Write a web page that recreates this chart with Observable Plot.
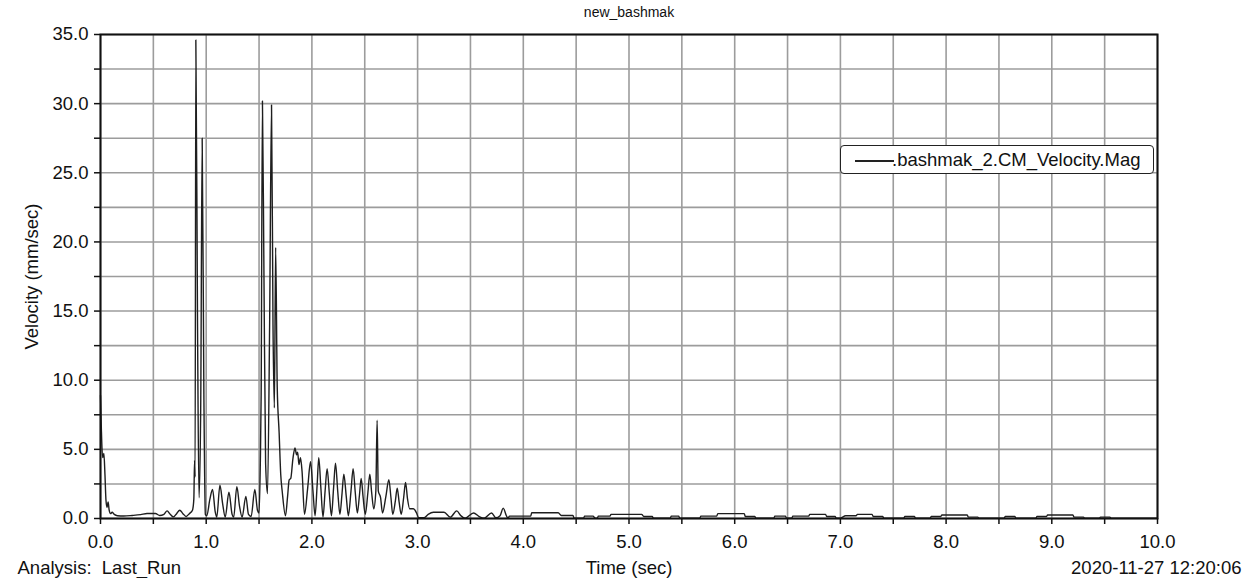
<!DOCTYPE html>
<html>
<head>
<meta charset="utf-8">
<script src="https://cdn.jsdelivr.net/npm/d3@7"></script>
<script src="https://cdn.jsdelivr.net/npm/@observablehq/plot@0.6"></script>
<style>
  html, body { margin: 0; padding: 0; background: #fff; }
  #wrap { position: relative; width: 1254px; height: 578px; font-family: "Liberation Sans", Arial, sans-serif; }
  #legend { position: absolute; left: 840px; top: 145px; width: 312px; height: 27px; border: 1.5px solid #222; border-radius: 4px; background: #fff; box-sizing: content-box; }
  #legend .sw { position: absolute; left: 14px; top: 14px; width: 39px; height: 0; border-top: 2px solid #222; }
  #legend .lb { position: absolute; left: 51px; top: 3px; font-size: 18.5px; color: #111; white-space: nowrap; }
</style>
</head>
<body>
<div id="wrap"><div id="legend"><div class="sw"></div><div class="lb">.bashmak_2.CM_Velocity.Mag</div></div></div>
<script>
const titleText = "new_bashmak";
const xLabel = "Time (sec)";
const yLabel = "Velocity (mm/sec)";
const analysisText = "Analysis:\u00a0\u00a0Last_Run";
const stampText = "2020-11-27 12:20:06";
const seriesName = ".bashmak_2.CM_Velocity.Mag";

const xTickLabels = [0,1,2,3,4,5,6,7,8,9,10];
const xGrid = d3.range(0, 10.001, 0.5);
const yTickLabels = [0,5,10,15,20,25,30,35];
const yGrid = d3.range(0, 35.001, 2.5);

const times = [
  0.000,0.008,0.020,0.032,0.042,0.052,0.062,0.072,0.082,0.095,0.11,0.13,0.16,0.22,0.30,0.38,0.44,0.52,0.56,0.60,
  0.63,0.66,0.69,0.72,0.75,0.78,0.81,0.84,0.87,0.883,0.890,0.895,0.902,0.918,0.932,0.948,0.962,0.978,0.992,
  1.005,1.035,1.06,1.085,1.10,1.13,1.155,1.18,1.215,1.245,1.26,1.29,1.315,1.34,1.375,1.40,1.425,1.46,1.485,1.50,
  1.512,1.52,1.532,1.546,1.562,1.58,1.60,1.618,1.632,1.645,1.657,1.672,1.69,1.705,1.72,1.75,
  1.77,1.785,1.80,1.82,1.84,1.855,1.865,1.878,1.892,1.907,1.93,
  1.96,1.987,2.01,2.03,2.05,2.065,2.085,2.105,2.125,2.144,2.165,2.185,2.205,2.223,2.245,2.265,2.285,2.302,2.325,2.345,
  2.37,2.39,2.41,2.43,2.45,2.466,2.485,2.505,2.53,2.548,2.565,2.585,2.605,2.617,2.628,2.65,2.668,2.70,2.728,2.748,2.765,
  2.79,2.807,2.825,2.845,2.868,2.886,2.905,2.925,2.96,2.99,3.01,3.06,3.10,3.15,3.25,3.31,3.37,3.41,3.45,3.53,3.58,3.63,
  3.70,3.74,3.78,3.81,3.84,3.855,3.87,4.07,4.08,4.33,4.36,4.47,4.48,4.57,4.58,4.66,4.68,4.70,4.71,4.82,4.83,5.12,5.14,
  5.22,5.23,5.39,5.40,5.47,5.48,5.67,5.68,5.83,5.84,6.09,6.10,6.19,6.20,6.37,6.38,6.48,6.49,6.54,6.55,6.70,6.71,6.86,
  6.87,6.95,6.96,7.00,7.05,7.15,7.16,7.30,7.31,7.40,7.41,7.60,7.61,7.70,7.71,7.85,7.86,7.95,7.96,8.20,8.21,8.30,8.31,
  8.55,8.56,8.65,8.66,8.85,8.86,8.95,8.96,9.20,9.21,9.30,9.31,9.45,9.46,9.55,9.56,10.0
];
const velocity = [
  8.9,6.5,4.4,4.7,3.2,1.3,0.8,1.2,0.6,0.35,0.45,0.3,0.2,0.18,0.22,0.28,0.36,0.36,0.22,0.3,
  0.55,0.3,0.12,0.35,0.6,0.35,0.15,0.35,0.6,1.4,4.2,3.0,34.6,14,1.5,8,27.5,9,0.3,
  0.2,1.4,2.1,0.5,0.1,2.4,1.1,0.1,1.9,0.3,0.1,2.3,0.9,0.1,1.6,0.3,0.15,2.1,0.6,0.4,
  4.0,9,30.2,18,4,1.8,14,29.9,14,8,19.6,9.5,6.2,3.2,1.9,0.2,
  1.6,2.8,2.9,4.3,5.1,4.6,4.8,3.9,4.4,3.4,0.3,
  2.2,4.1,2.0,0.2,2.5,4.4,2.2,0.1,2.0,3.6,1.8,0.2,2.2,4.0,1.9,0.3,1.8,3.2,1.6,0.2,
  2.0,3.6,1.9,0.4,1.7,2.9,1.5,0.3,1.9,3.2,1.9,0.7,2.0,7.1,2.0,1.5,0.4,1.6,2.8,1.5,0.3,
  1.3,2.2,1.2,0.3,1.5,2.6,1.4,0.7,0.7,0.4,0.05,0.05,0.3,0.45,0.45,0.1,0.55,0.2,0.02,0.4,0.15,0.02,
  0.4,0.05,0.2,0.75,0.2,0.02,0.17,0.17,0.42,0.42,0.22,0.22,0.03,0.03,0.17,0.17,0.03,0.03,0.17,0.17,0.3,0.3,0.15,
  0.15,0.03,0.03,0.17,0.17,0.03,0.03,0.17,0.17,0.35,0.35,0.15,0.15,0.03,0.03,0.17,0.17,0.03,0.03,0.17,0.17,0.3,0.3,
  0.15,0.15,0.03,0.03,0.2,0.2,0.3,0.3,0.15,0.15,0.03,0.03,0.15,0.15,0.03,0.03,0.15,0.15,0.25,0.25,0.1,0.1,0.03,
  0.03,0.15,0.15,0.03,0.03,0.15,0.15,0.25,0.25,0.1,0.1,0.03,0.03,0.1,0.1,0.02,0.02
];

const data = times.map((t, i) => ({t, v: velocity[i]}));
const fs = "18.5px";

const chart = Plot.plot({
  width: 1254,
  height: 578,
  marginLeft: 100,
  marginRight: 97,
  marginTop: 34,
  marginBottom: 60,
  style: {fontFamily: "'Liberation Sans', Arial, sans-serif", fontSize: fs, color: "#111", background: "#fff"},
  x: {domain: [0, 10], label: null},
  y: {domain: [0, 35], label: null},
  marks: [
    Plot.gridX(xGrid, {stroke: "#9c9c9c", strokeOpacity: 1, strokeWidth: 1.6}),
    Plot.gridY(yGrid, {stroke: "#9c9c9c", strokeOpacity: 1, strokeWidth: 1.6}),
    Plot.axisX(xGrid, {tickSize: 6, text: null, stroke: "#111", strokeWidth: 1.5, label: null}),
    Plot.axisX(xTickLabels, {tickSize: 0, tickPadding: 16, tickFormat: d => d.toFixed(1), fontSize: fs, label: null}),
    Plot.axisY(yGrid, {tickSize: 6, text: null, stroke: "#111", strokeWidth: 1.5, label: null}),
    Plot.axisY(yTickLabels, {tickSize: 0, tickPadding: 12, tickFormat: d => d.toFixed(1), fontSize: fs, label: null}),
    Plot.line(data, {x: "t", y: "v", stroke: "#1e1e1e", strokeWidth: 1.4, curve: "monotone-x"}),
    Plot.frame({stroke: "#111", strokeWidth: 2}),
    Plot.text([titleText], {frameAnchor: "top", lineAnchor: "middle", dy: -22, fontSize: "14px", fill: "#111"}),
    Plot.text([xLabel], {frameAnchor: "bottom", lineAnchor: "middle", dy: 50, fontSize: fs, fill: "#111"}),
    Plot.text([analysisText], {frameAnchor: "bottom-left", textAnchor: "start", lineAnchor: "middle", dx: -83, dy: 50, fontSize: fs, fill: "#111"}),
    Plot.text([stampText], {frameAnchor: "bottom-right", textAnchor: "end", lineAnchor: "middle", dx: 84, dy: 50, fontSize: fs, fill: "#111"}),
    Plot.text([yLabel], {frameAnchor: "left", textAnchor: "middle", lineAnchor: "middle", rotate: -90, dx: -68, fontSize: fs, fill: "#111"})
  ]
});
document.getElementById("wrap").prepend(chart);
</script>
</body>
</html>
